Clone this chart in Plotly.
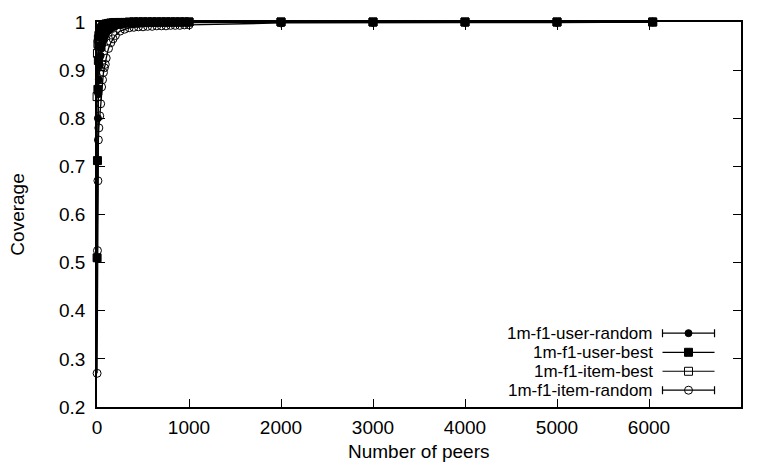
import plotly.graph_objects as go

# ---- data ----
peers = [1, 5, 10, 15, 20, 30, 40, 50, 60, 70, 80, 90, 100, 125, 150, 175, 200,
         250, 300, 350, 400, 450, 500, 550, 600, 650, 700, 750, 800, 850, 900,
         950, 1000, 2000, 3000, 4000, 5000, 6040]

user_random = [0.508, 0.71, 0.80, 0.85, 0.88, 0.91, 0.93, 0.945, 0.955, 0.962,
               0.968, 0.972, 0.976, 0.982, 0.986, 0.989, 0.991, 0.993, 0.995,
               0.996, 0.997, 0.997, 0.998, 0.998, 0.998, 0.998, 0.999, 0.999,
               0.999, 0.999, 0.999, 0.999, 0.999, 1.0, 1.0, 1.0, 1.0, 1.0]

user_best = [0.51, 0.712, 0.86, 0.92, 0.95, 0.97, 0.98, 0.985, 0.99, 0.992,
             0.994, 0.995, 0.996, 0.997, 0.998, 0.998, 0.999, 0.999, 0.999,
             1.0, 1.0, 1.0, 1.0, 1.0, 1.0, 1.0, 1.0, 1.0, 1.0, 1.0, 1.0, 1.0,
             1.0, 1.0, 1.0, 1.0, 1.0, 1.0]

item_best = [0.845, 0.935, 0.955, 0.965, 0.972, 0.98, 0.985, 0.988, 0.99,
             0.992, 0.993, 0.994, 0.995, 0.996, 0.997, 0.998, 0.998, 0.999,
             0.999, 0.999, 1.0, 1.0, 1.0, 1.0, 1.0, 1.0, 1.0, 1.0, 1.0, 1.0,
             1.0, 1.0, 1.0, 1.0, 1.0, 1.0, 1.0, 1.0]

item_random = [0.27, 0.525, 0.67, 0.755, 0.78, 0.805, 0.83, 0.865, 0.88, 0.895,
               0.905, 0.912, 0.925, 0.945, 0.957, 0.965, 0.972, 0.981, 0.985,
               0.988, 0.989, 0.99, 0.99, 0.991, 0.991, 0.992, 0.992, 0.992,
               0.993, 0.993, 0.993, 0.994, 0.994, 0.998, 0.999, 0.999, 0.999, 1.0]

series_names = ["1m-f1-user-random", "1m-f1-user-best", "1m-f1-item-best", "1m-f1-item-random"]
series_values = [user_random, user_best, item_best, item_random]
series_symbols = ["circle", "square", "square-open", "circle-open"]
series_sizes = [7, 8, 8, 8]
legend_caps = [4, 0, 0, 4]

x_ticks = [0, 1000, 2000, 3000, 4000, 5000, 6000, 7000]
y_ticks = [0.2, 0.3, 0.4, 0.5, 0.6, 0.7, 0.8, 0.9, 1.0]
y_ticktext = ["0.2", "0.3", "0.4", "0.5", "0.6", "0.7", "0.8", "0.9", "1"]

FONT = "Liberation Sans, Arial, Helvetica, sans-serif"
FS = 19
KEY_FS = 17

fig = go.Figure()

for name, vals, sym, sz in zip(series_names, series_values, series_symbols, series_sizes):
    fig.add_trace(go.Scatter(
        x=peers, y=vals, name=name, mode="lines+markers",
        line=dict(color="black", width=1.3),
        marker=dict(symbol=sym, size=sz, color="black",
                    line=dict(color="black", width=1)),
        cliponaxis=False, showlegend=False,
    ))

# ---- gnuplot-style key (text on left, sample on right) ----
legend_rows_y = [0.1918, 0.1421, 0.0928, 0.0436]
sample_x = 0.9185
sample_half = 0.0404
for name, sym, sz, cap, yy in zip(series_names, series_symbols, series_sizes,
                                   legend_caps, legend_rows_y):
    fig.add_trace(go.Scatter(
        x=[sample_x], y=[yy], xaxis="x2", yaxis="y2", mode="markers",
        marker=dict(symbol=sym, size=sz, color="black",
                    line=dict(color="black", width=1)),
        error_x=dict(type="constant", value=sample_half, color="black",
                     thickness=1.2, width=cap),
        showlegend=False, cliponaxis=False, hoverinfo="skip",
    ))
    fig.add_annotation(text=name, xref="paper", yref="paper",
                       x=0.865, y=yy, xanchor="right", yanchor="middle",
                       borderpad=0, showarrow=False,
                       font=dict(family=FONT, size=KEY_FS, color="black"))

fig.add_annotation(text="Coverage", xref="paper", yref="paper", x=-0.124, y=0.5,
                   textangle=-90, xanchor="center", yanchor="middle", showarrow=False,
                   font=dict(family=FONT, size=FS, color="black"))
fig.add_annotation(text="Number of peers", xref="paper", yref="paper", x=0.5, y=-0.115,
                   xanchor="center", yanchor="middle", showarrow=False,
                   font=dict(family=FONT, size=FS, color="black"))

axis_common = dict(showgrid=False, zeroline=False, showline=True, linecolor="black",
                   linewidth=1.5, mirror="ticks", ticks="inside", ticklen=8,
                   tickcolor="black", tickwidth=1.2,
                   tickfont=dict(family=FONT, size=FS, color="black"))

fig.update_layout(
    width=760, height=466,
    margin=dict(l=97, r=19, t=17, b=59),
    paper_bgcolor="white", plot_bgcolor="white",
    xaxis=dict(range=[0, 7000], tickvals=x_ticks, ticklabelstandoff=2, **axis_common),
    yaxis=dict(range=[0.2, 1.0], tickvals=y_ticks, ticktext=y_ticktext,
               ticklabelstandoff=6, **axis_common),
    xaxis2=dict(overlaying="x", range=[0, 1], visible=False),
    yaxis2=dict(overlaying="y", range=[0, 1], visible=False),
    showlegend=False,
)

fig.write_html("out.html")
